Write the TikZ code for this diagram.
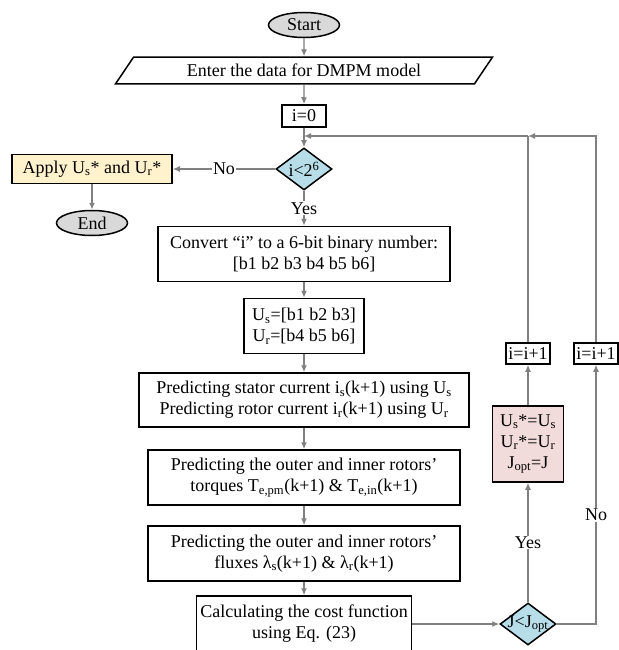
\documentclass[tikz,border=0pt]{standalone}
\usepackage{fontspec}
\setmainfont{Liberation Serif}
\usetikzlibrary{arrows.meta,positioning,shapes.geometric}
\definecolor{termgray}{HTML}{D9D9D9}
\definecolor{decblue}{HTML}{B7DEE8}
\definecolor{applyyellow}{HTML}{FFF2CC}
\definecolor{savepink}{HTML}{F2DCDB}
\definecolor{flowgray}{HTML}{808080}
\newcommand{\flowfont}{\fontsize{18}{21}\selectfont}
\tikzset{
  box/.style={draw=black, line width=1.5pt, align=center, inner sep=2pt, font=\flowfont},
  terminal/.style={ellipse, draw=black, line width=1.5pt, fill=termgray, inner sep=0pt, minimum width=71pt, minimum height=25pt, font=\flowfont},
  iobox/.style={trapezium, trapezium left angle=56, trapezium right angle=124, trapezium stretches body, draw=black, line width=1.5pt, inner ysep=7pt, minimum width=377pt, font=\flowfont},
  decision/.style={diamond, draw=black, line width=1.5pt, fill=decblue, inner sep=0pt, minimum width=56pt, minimum height=42pt, font=\flowfont},
  arrow/.style={-{Latex[length=7pt,width=6pt]}, draw=flowgray, line width=1.3pt},
  line/.style={draw=flowgray, line width=1.3pt},
  lbl/.style={fill=white, inner sep=1pt, font=\flowfont}
}
\begin{document}
\begin{tikzpicture}[x=1pt, y=-1pt]
\useasboundingbox (0,0) rectangle (618,650);
% main column
\node[terminal] (start) at (304,25) {Start};
\node[iobox] (data) at (304,70.5) {Enter the data for DMPM model};
\node[box, minimum width=44pt, minimum height=22pt] (init) at (304,116) {i=0};
\node[decision] (test) at (304,169) {\makebox[0pt]{i<2\textsuperscript{6}}};
\node[box, fill=applyyellow, minimum width=160pt, minimum height=29pt] (apply) at (92,169) {Apply U\textsubscript{s}* and U\textsubscript{r}*};
\node[terminal] (end) at (92,223) {End};
\node[box, minimum width=292pt, minimum height=55pt] (convert) at (304,254) {Convert “i” to a 6-bit binary number:\\{}[b1 b2 b3 b4 b5 b6]};
\node[box, minimum width=120pt, minimum height=55pt] (split) at (304,326) {U\textsubscript{s}=[b1 b2 b3]\\U\textsubscript{r}=[b4 b5 b6]};
\node[box, minimum width=330pt, minimum height=54pt] (current) at (304,400) {Predicting stator current i\textsubscript{s}(k+1) using U\textsubscript{s}\\Predicting rotor current i\textsubscript{r}(k+1) using U\textsubscript{r}};
\node[box, minimum width=312pt, minimum height=55pt] (torque) at (304,477.5) {Predicting the outer and inner rotors’\\torques T\textsubscript{e,pm}(k+1) \& T\textsubscript{e,in}(k+1)};
\node[box, minimum width=312pt, minimum height=55pt] (flux) at (304,553.5) {Predicting the outer and inner rotors’\\fluxes λ\textsubscript{s}(k+1) \& λ\textsubscript{r}(k+1)};
\node[box, minimum width=215pt, minimum height=56pt] (cost) at (304,624) {Calculating the cost function\\using Eq. (23)};
% right column
\node[decision] (jtest) at (528,624) {\makebox[0pt]{J<J\textsubscript{opt}}};
\node[box, fill=savepink, minimum width=71pt, minimum height=76pt] (save) at (528,444) {U\textsubscript{s}*=U\textsubscript{s}\\U\textsubscript{r}*=U\textsubscript{r}\\J\textsubscript{opt}=J};
\node[box, minimum width=44pt, minimum height=21pt] (incL) at (528,353.5) {i=i+1};
\node[box, minimum width=44pt, minimum height=21pt] (incR) at (596,353.5) {i=i+1};
\coordinate (loopL) at (528,136);
\coordinate (loopT) at (304,136);
% connectors
\draw[arrow] (start) -- (data);
\draw[arrow] (data) -- (init);
\draw[arrow] (init) -- (test);
\draw[arrow] (test) -- node[lbl] {No} (apply);
\draw[arrow] (apply) -- (end);
\draw[arrow] (test) -- node[lbl] {Yes} (convert);
\draw[arrow] (convert) -- (split);
\draw[arrow] (split) -- (current);
\draw[arrow] (current) -- (torque);
\draw[arrow] (torque) -- (flux);
\draw[arrow] (flux) -- (cost);
\draw[arrow] (cost) -- (jtest);
\draw[arrow] (jtest) -- node[lbl] {Yes} (save);
\draw[arrow] (save) -- (incL);
\draw[arrow] (jtest.east) -| node[lbl, pos=0.71] {No} (incR.south);
\draw[line] (incL) -- (loopL);
\draw[arrow] (incR) |- (loopL);
\draw[arrow] (loopL) -- (loopT);
\end{tikzpicture}
\end{document}
